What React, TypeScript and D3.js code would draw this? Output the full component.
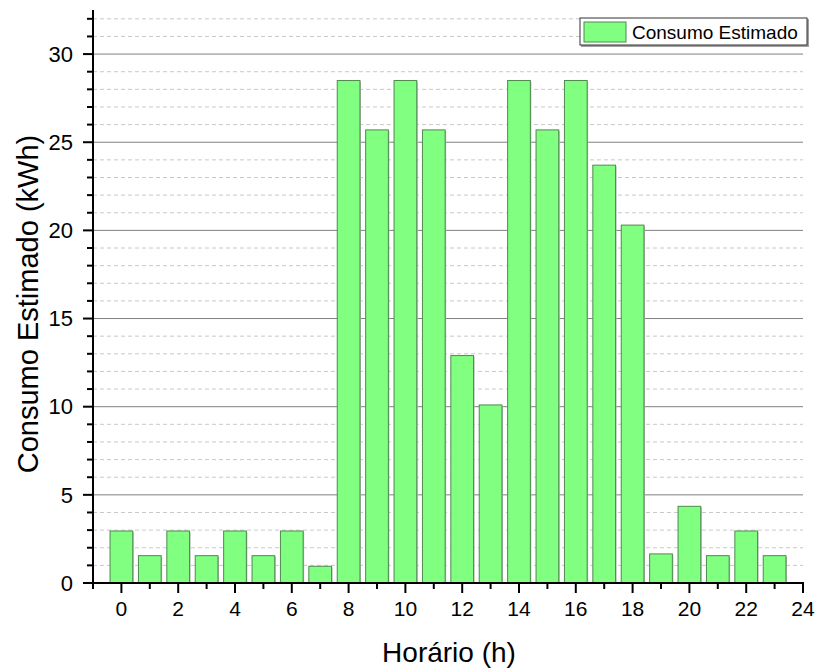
import React from "react";
import * as d3 from "d3";

const hours = [0,1,2,3,4,5,6,7,8,9,10,11,12,13,14,15,16,17,18,19,20,21,22,23];
const consumo = [2.95,1.55,2.95,1.55,2.95,1.55,2.95,0.95,28.5,25.7,28.5,25.7,12.9,10.1,28.5,25.7,28.5,23.7,20.3,1.65,4.35,1.55,2.95,1.55];
const xTicks = [0,2,4,6,8,10,12,14,16,18,20,22,24];
const xMinorTicks = [1,3,5,7,9,11,13,15,17,19,21,23];
const yTicks = [0,5,10,15,20,25,30];
const yMinor = d3.range(1, 33).filter((v) => v % 5 !== 0);
const seriesName = "Consumo Estimado";

const W = 818, H = 670;
const left = 93, right = 803, top = 10, bottom = 583;
const font = "Arial, 'Liberation Sans', sans-serif";

export default function App() {
  const x = d3.scaleLinear().domain([-1, 24]).range([left, right]);
  const y = d3.scaleLinear().domain([0, 32.5]).range([bottom, top]);
  const bw = (x(1) - x(0)) * 0.8;
  return (
    <svg width={W} height={H} style={{ position: "absolute", left: 0, top: 0 }} fontFamily={font}>
      <rect width={W} height={H} fill="#fff" />
      {yMinor.map((v) => (
        <line key={"gm" + v} x1={left} x2={right} y1={y(v)} y2={y(v)} stroke="#c8c8c8" strokeDasharray="4,3" strokeWidth={1} />
      ))}
      {yTicks.filter((v) => v > 0).map((v) => (
        <line key={"gM" + v} x1={left} x2={right} y1={y(v)} y2={y(v)} stroke="#808080" strokeWidth={1} />
      ))}
      {hours.map((h, i) => (
        <g key={"b" + h}>
          <rect x={x(h) - bw / 2 + 1} y={y(consumo[i]) + 1} width={bw} height={bottom - y(consumo[i])} fill="#b8b8b8" />
          <rect x={x(h) - bw / 2} y={y(consumo[i])} width={bw} height={bottom - y(consumo[i])} fill="#80ff80" stroke="#4f8a4f" strokeWidth={1} />
        </g>
      ))}
      {/* axes */}
      <line x1={left} x2={left} y1={top} y2={bottom + 1} stroke="#000" strokeWidth={2} />
      <line x1={left - 1} x2={right + 1} y1={bottom} y2={bottom} stroke="#000" strokeWidth={2} />
      {yTicks.map((v) => (
        <g key={"yt" + v}>
          <line x1={left - 10} x2={left} y1={y(v)} y2={y(v)} stroke="#000" strokeWidth={2} />
          <text x={left - 20} y={y(v)} dy="0.35em" textAnchor="end" fontSize={22}>{v}</text>
        </g>
      ))}
      {yMinor.map((v) => (
        <line key={"ymt" + v} x1={left - 6} x2={left} y1={y(v)} y2={y(v)} stroke="#000" strokeWidth={2} />
      ))}
      {xTicks.map((v) => (
        <g key={"xt" + v}>
          <line x1={x(v)} x2={x(v)} y1={bottom} y2={bottom + 10} stroke="#000" strokeWidth={2} />
          <text x={x(v)} y={bottom + 33} textAnchor="middle" fontSize={21}>{v}</text>
        </g>
      ))}
      {xMinorTicks.map((v) => (
        <line key={"xmt" + v} x1={x(v)} x2={x(v)} y1={bottom} y2={bottom + 6} stroke="#000" strokeWidth={2} />
      ))}
      <line x1={x(-1)} x2={x(-1)} y1={bottom} y2={bottom + 6} stroke="#000" strokeWidth={2} />
      <text x={449} y={662} textAnchor="middle" fontSize={28}>Horário (h)</text>
      <text transform={`translate(38,304) rotate(-90)`} textAnchor="middle" fontSize={29}>Consumo Estimado (kWh)</text>
      {/* legend */}
      <rect x={581} y={19} width={228} height={28} fill="#a0a0a0" />
      <rect x={580} y={18} width={227} height={27} fill="#fff" stroke="#333" strokeWidth={1} />
      <rect x={584} y={22} width={42} height={20} fill="#80ff80" stroke="#4f8a4f" strokeWidth={1} />
      <text x={632} y={32} dy="0.35em" fontSize={19}>{seriesName}</text>
    </svg>
  );
}
